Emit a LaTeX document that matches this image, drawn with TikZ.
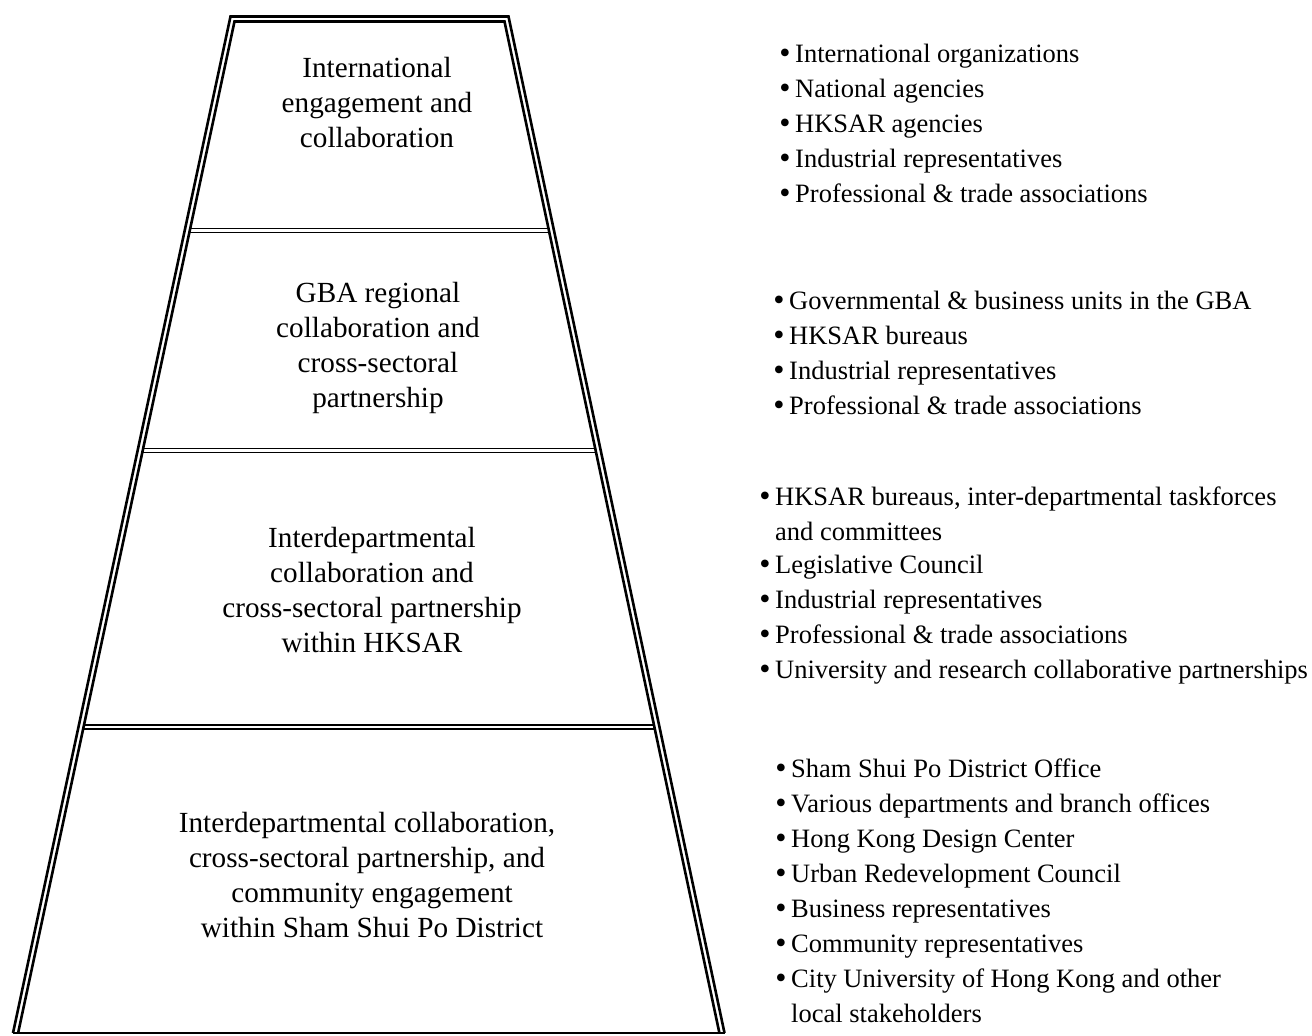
\documentclass[tikz,border=0pt]{standalone}
\usepackage{fontspec}
\setmainfont{Liberation Serif}
\newcommand\listfont{\fontsize{26.5}{35}\selectfont}
\newcommand\tierfont{\fontsize{29.2}{35}\selectfont}
\newcommand\bulfont{\fontsize{32}{35}\selectfont}
\tikzset{
  frame/.style={line width=2.6pt, line join=miter},
  rule/.style={line width=1.6pt},
  tier/.style={anchor=base, inner sep=0pt, font=\tierfont},
  entry/.style={anchor=base west, inner sep=0pt, font=\listfont},
  bul/.style={anchor=base, inner sep=0pt, font=\bulfont, yshift=-1.5pt},
}
\begin{document}
\begin{tikzpicture}[x=1pt, y=-1pt]
  \useasboundingbox (0,0) rectangle (1312,1036);
  % pyramid outline: outer and inner sides, single base line
  \coordinate (oBL) at (13,1033);
  \coordinate (oTL) at (230.5,16.5);
  \coordinate (oTR) at (508.5,16.5);
  \coordinate (oBR) at (724.5,1033);
  \coordinate (iBL) at (18.1,1033);
  \coordinate (iTL) at (234.5,21.5);
  \coordinate (iTR) at (504.5,21.5);
  \coordinate (iBR) at (719.4,1033);
  \draw[frame] (oBL) -- (oTL) -- (oTR) -- (oBR);
  \draw[frame] (iBL) -- (iTL) -- (iTR) -- (iBR);
  \draw[line width=1.6pt] (oBL) -- (oBR);
  % double dividers between tiers
  \foreach \d in {230.5, 450.5, 727} {
    \foreach \o in {-2,2} {
      \pgfmathsetmacro\yy{\d+\o}
      \pgfmathsetmacro\xl{235.6-0.21397*(\yy-16.5)}
      \pgfmathsetmacro\xr{503.4+0.2125*(\yy-16.5)}
      \draw[rule] (\xl,\yy) -- (\xr,\yy);
    }
  }
  % tier labels
  \node[tier] (t1a) at (377,77) {International};
  \node[tier] (t1b) at (377,112) {engagement and};
  \node[tier] (t1c) at (377,147) {collaboration};
  \node[tier] (t2a) at (378,302) {GBA regional};
  \node[tier] (t2b) at (378,337) {collaboration and};
  \node[tier] (t2c) at (378,372) {cross-sectoral};
  \node[tier] (t2d) at (378,407) {partnership};
  \node[tier] (t3a) at (372,547) {Interdepartmental};
  \node[tier] (t3b) at (372,582) {collaboration and};
  \node[tier] (t3c) at (372,617) {cross-sectoral partnership};
  \node[tier] (t3d) at (372,652) {within HKSAR};
  \node[tier] (t4a) at (367,832) {Interdepartmental collaboration,};
  \node[tier] (t4b) at (367,867) {cross-sectoral partnership, and};
  \node[tier] (t4c) at (372,902) {community engagement};
  \node[tier] (t4d) at (372,937) {within Sham Shui Po District};
  % stakeholder lists
  \foreach \y/\t [count=\i] in {62/International organizations, 97/National agencies,
      132/HKSAR agencies, 167/Industrial representatives,
      202/Professional \& trade associations} {
    \node[entry] (la\i) at (795,\y) {\t};
    \node[bul] (ba\i) at (785,\y) {•};
  }
  \foreach \y/\t [count=\i] in {309/Governmental \& business units in the GBA,
      344/HKSAR bureaus, 379/Industrial representatives,
      414/Professional \& trade associations} {
    \node[entry] (lb\i) at (789,\y) {\t};
    \node[bul] (bb\i) at (779,\y) {•};
  }
  \foreach \y/\t [count=\i] in {505/{HKSAR bureaus, inter-departmental taskforces},
      573/Legislative Council, 608/Industrial representatives,
      643/Professional \& trade associations,
      678/University and research collaborative partnerships} {
    \node[entry] (lc\i) at (775,\y) {\t};
    \node[bul] (bc\i) at (765,\y) {•};
  }
  \node[entry] (lc0) at (775,540) {and committees};
  \foreach \y/\t [count=\i] in {777/Sham Shui Po District Office,
      812/Various departments and branch offices,
      847/Hong Kong Design Center, 882/Urban Redevelopment Council,
      917/Business representatives, 952/Community representatives,
      987/City University of Hong Kong and other} {
    \node[entry] (ld\i) at (791,\y) {\t};
    \node[bul] (bd\i) at (781,\y) {•};
  }
  \node[entry] (ld0) at (791,1022) {local stakeholders};
\end{tikzpicture}
\end{document}
